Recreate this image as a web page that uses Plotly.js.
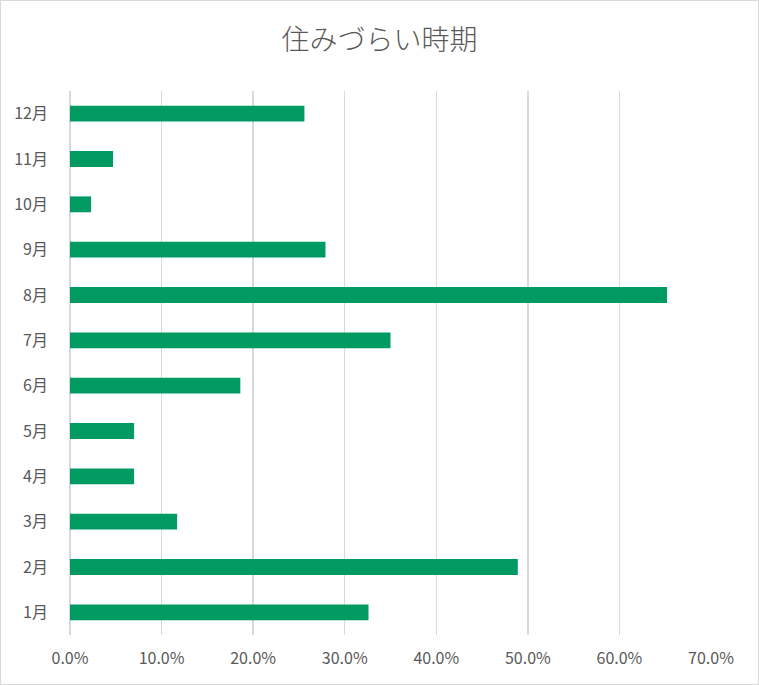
<!DOCTYPE html>
<html>
<head>
<meta charset="utf-8">
<script src="https://cdn.plot.ly/plotly-3.0.1.min.js"></script>
<style>
  body { margin: 0; background: #fff; }
  #frame { width: 757px; height: 683px; border: 1px solid #d9d9d9; }
</style>
</head>
<body>
<div id="frame"><div id="plot"></div></div>
<script>
const months = [ '1月', '2月', '3月', '4月', '5月', '6月', '7月', '8月', '9月', '10月', '11月', '12月' ];
const shares = [ 0.326, 0.489, 0.117, 0.070, 0.070, 0.186, 0.350, 0.652, 0.279, 0.023, 0.047, 0.256 ];
const xTicks = [ 0, 0.1, 0.2, 0.3, 0.4, 0.5, 0.6, 0.7 ];

const font = { family: '"Noto Sans CJK JP", "Noto Sans", sans-serif', color: '#595959' };

const data = [ {
    type: 'bar',
    orientation: 'h',
    x: shares,
    y: months,
    marker: { color: '#009A62' },
    hoverinfo: 'none',
} ];

const layout = {
    width: 757,
    height: 683,
    margin: { l: 69, r: 47, t: 90, b: 49 },
    paper_bgcolor: '#fff',
    plot_bgcolor: '#fff',
    bargap: 0.65,
    showlegend: false,
    font: { ...font, size: 16 },
    title: {
        text: '住みづらい時期',
        font: { ...font, size: 28, weight: 300 },
        x: 0.5,
        xanchor: 'center',
        xref: 'container',
        y: 1 - 39 / 683,
        yanchor: 'middle',
        yref: 'container',
    },
    xaxis: {
        range: [ 0, 0.7 ],
        tickvals: xTicks,
        tickformat: '.1%',
        showgrid: true,
        gridcolor: '#d9d9d9',
        gridwidth: 1.5,
        zeroline: true,
        zerolinecolor: '#d9d9d9',
        zerolinewidth: 1.5,
        showline: false,
        ticks: '',
        ticklabelstandoff: 12,
        fixedrange: true,
    },
    yaxis: {
        type: 'category',
        showgrid: false,
        zeroline: false,
        showline: false,
        ticks: '',
        ticklabelstandoff: 21,
        fixedrange: true,
    },
};

Plotly.newPlot('plot', data, layout, { displayModeBar: false, staticPlot: true });
</script>
</body>
</html>
